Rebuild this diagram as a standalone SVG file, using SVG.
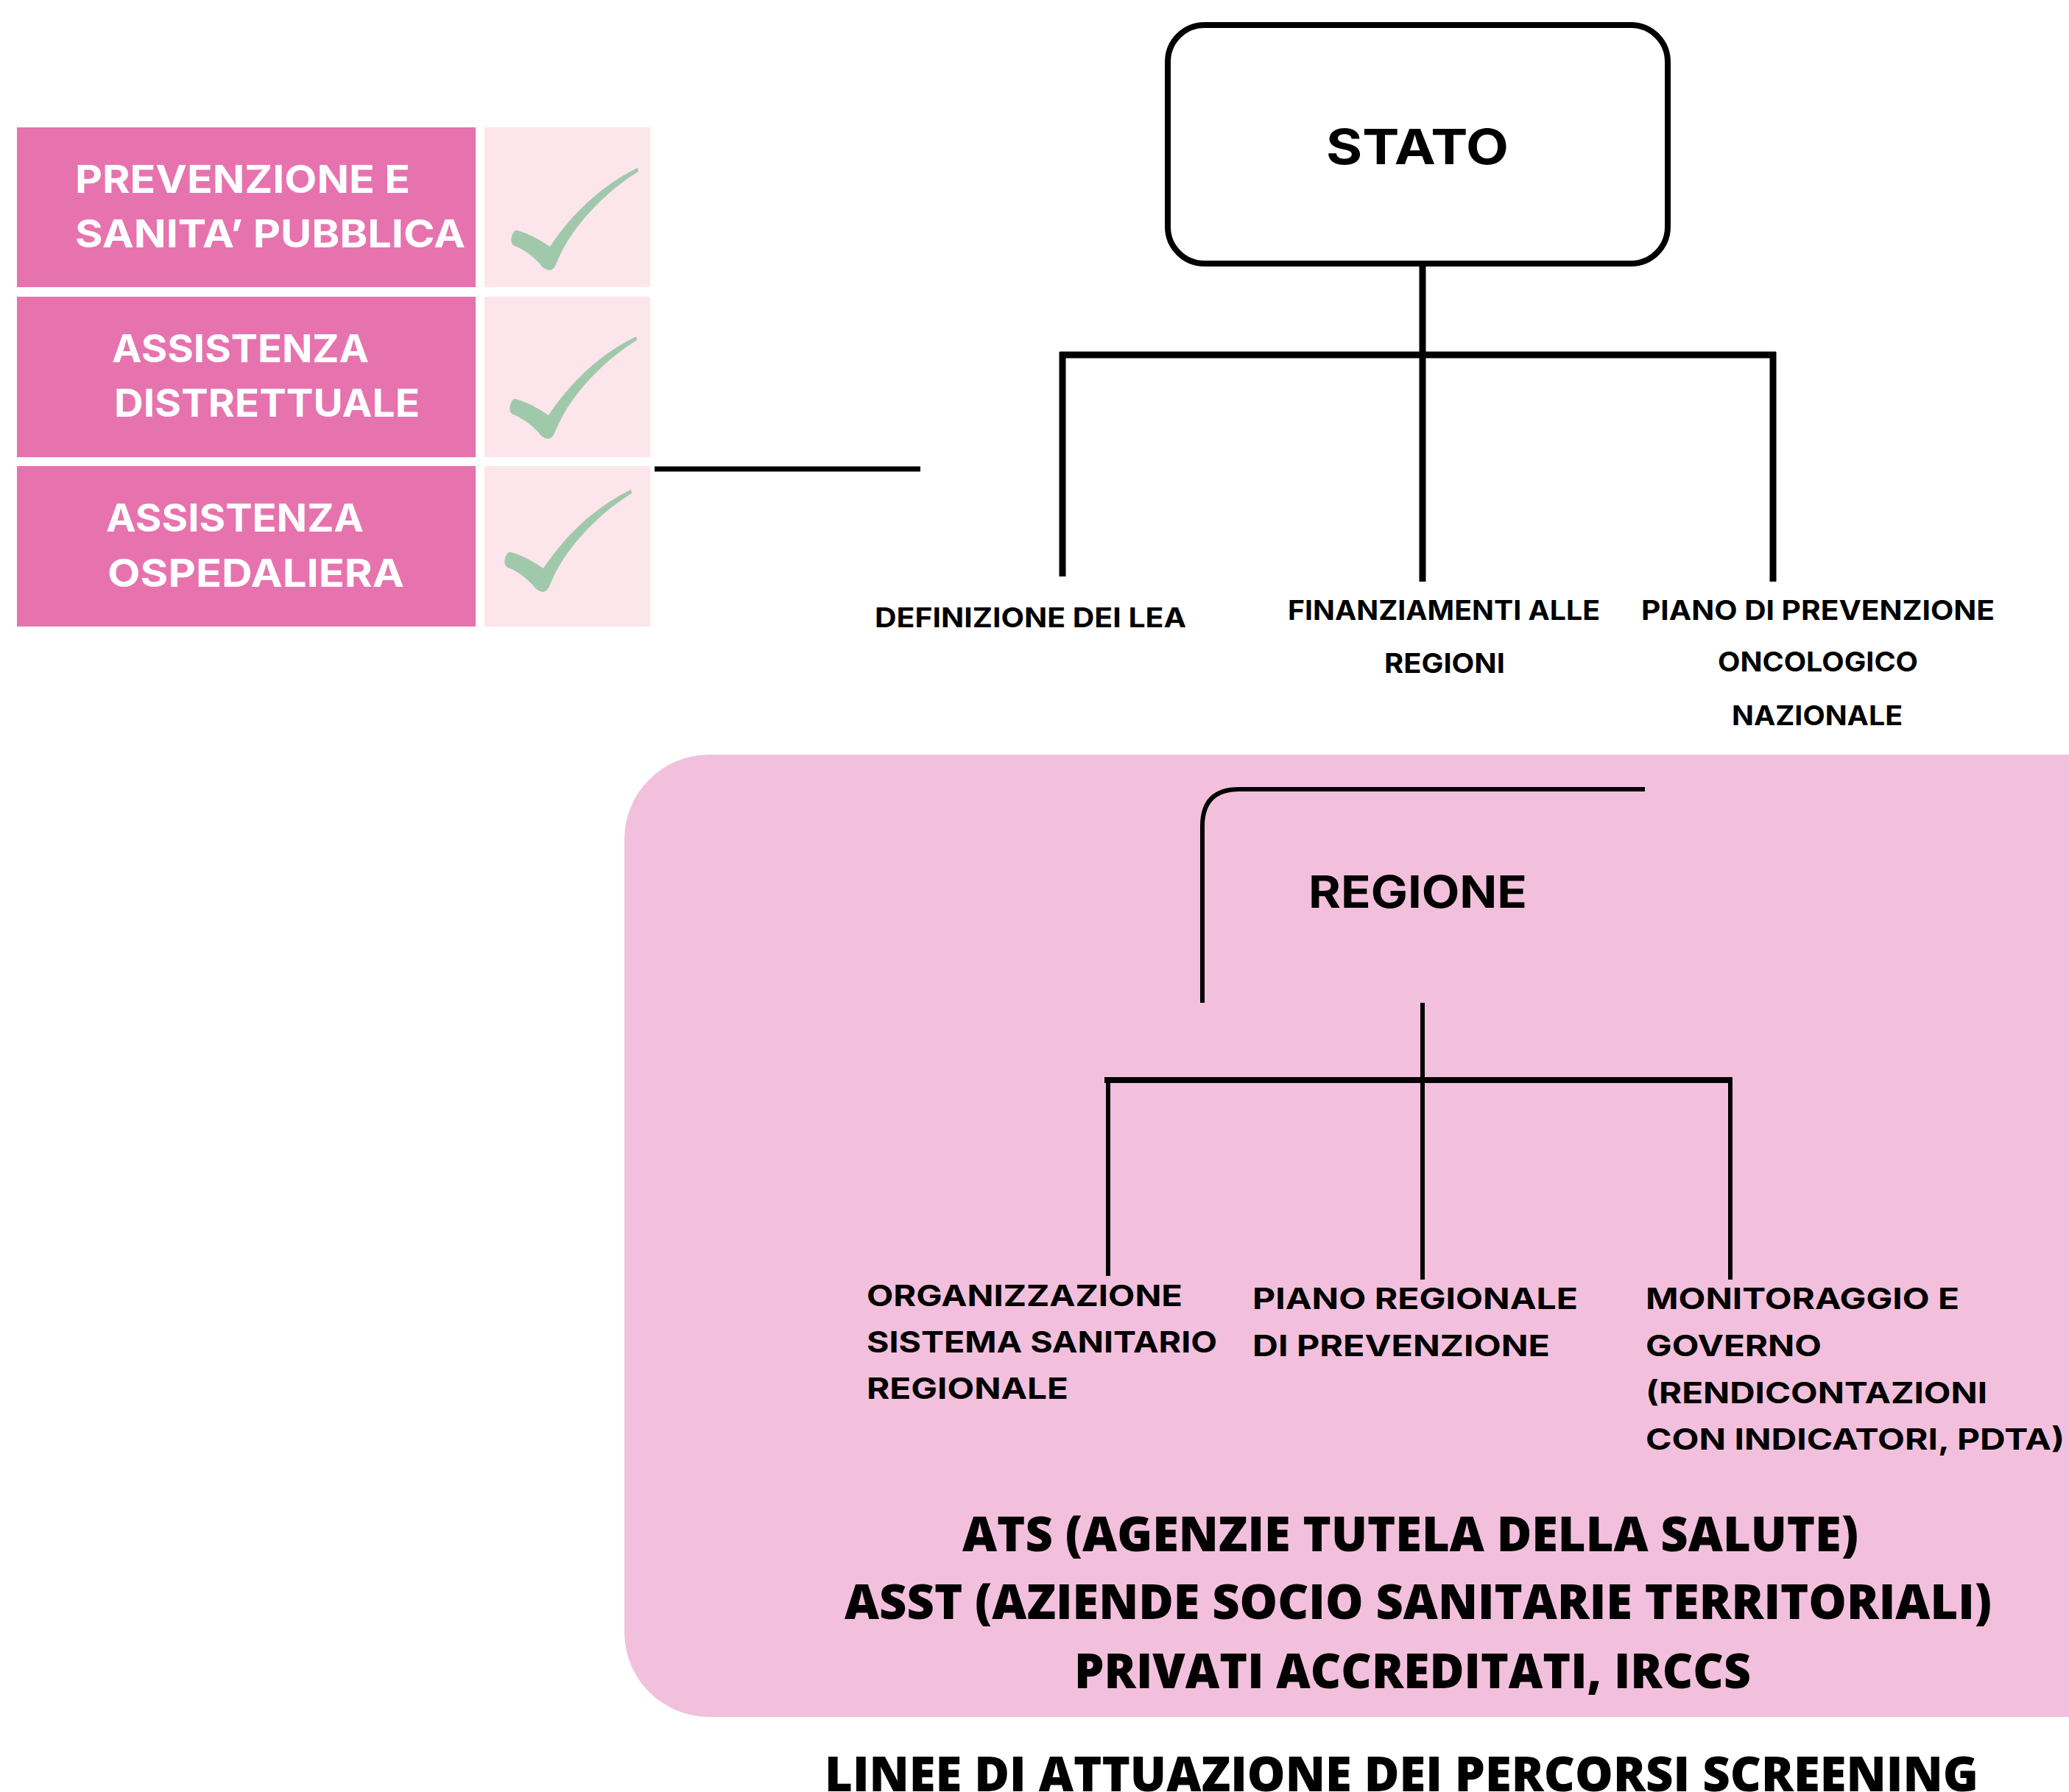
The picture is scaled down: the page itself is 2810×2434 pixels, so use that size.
<svg xmlns="http://www.w3.org/2000/svg" width="2810" height="2434" viewBox="0 0 2810 2434">
<defs>
<style>
.bg{fill:#ffffff}
.pink{fill:#e773ae}
.light{fill:#fde5ec}
.region{fill:#f2c0dc}
.check{fill:#a0c9ac}
.wt{font-family:Inter,"DejaVu Sans",sans-serif;font-weight:700;fill:#ffffff;font-size:52px}
.st{font-family:Inter,"DejaVu Sans",sans-serif;font-weight:700;fill:#000000;font-size:37px}
.rt{font-family:Inter,"DejaVu Sans",sans-serif;font-weight:700;fill:#000000;font-size:40px}
.title{font-family:Inter,"DejaVu Sans",sans-serif;font-weight:700;fill:#000000}
.big{font-family:"Open Sans","Liberation Sans",sans-serif;font-weight:800;fill:#000000;font-size:66px}
.ln{stroke:#000000;fill:none;stroke-linecap:butt}
</style>
<path id="chk" d="M703 313 Q722 318 747 335 C770 300 810 255 866 228 L867 233 C820 262 775 310 757 355 Q752 368 746 367 Q738 366 733 358 Q716 340 697 333 Q692 328 696 318 Q699 312 703 313 Z"/>
</defs>
<rect class="bg" x="0" y="0" width="2810" height="2434"/>

<g id="region-bg">
<rect class="region" x="848" y="1025" width="2200" height="1307" rx="115" ry="115"/>
</g>

<g id="lea-1">
<rect class="pink" x="23" y="173" width="623" height="217"/>
<rect class="light" x="658" y="173" width="225" height="217"/>
<use href="#chk" class="check"/>
<text class="wt" x="102" y="262" textLength="455" lengthAdjust="spacingAndGlyphs">PREVENZIONE E</text>
<text class="wt" x="102" y="336" textLength="530" lengthAdjust="spacingAndGlyphs">SANITA’ PUBBLICA</text>
</g>
<g id="lea-2">
<rect class="pink" x="23" y="403" width="623" height="218"/>
<rect class="light" x="658" y="403" width="225" height="218"/>
<use href="#chk" class="check" transform="translate(-2,229)"/>
<text class="wt" x="152" y="492" textLength="349" lengthAdjust="spacingAndGlyphs">ASSISTENZA</text>
<text class="wt" x="155" y="566" textLength="415" lengthAdjust="spacingAndGlyphs">DISTRETTUALE</text>
</g>
<g id="lea-3">
<rect class="pink" x="23" y="633" width="623" height="218"/>
<rect class="light" x="658" y="633" width="225" height="218"/>
<use href="#chk" class="check" transform="translate(-9,437)"/>
<text class="wt" x="144" y="722" textLength="350" lengthAdjust="spacingAndGlyphs">ASSISTENZA</text>
<text class="wt" x="146" y="797" textLength="403" lengthAdjust="spacingAndGlyphs">OSPEDALIERA</text>
</g>

<g id="stato">
<rect x="1586" y="34" width="679" height="324" rx="50" ry="50" fill="#ffffff" stroke="#000000" stroke-width="8"/>
<text class="title" x="1801" y="223" font-size="66" textLength="248" lengthAdjust="spacingAndGlyphs">STATO</text>
</g>

<g id="stato-children">
<text class="st" x="1188" y="852" textLength="423" lengthAdjust="spacingAndGlyphs">DEFINIZIONE DEI LEA</text>
<text class="st" x="1749" y="842" textLength="424" lengthAdjust="spacingAndGlyphs">FINANZIAMENTI ALLE</text>
<text class="st" x="1880" y="914" textLength="164" lengthAdjust="spacingAndGlyphs">REGIONI</text>
<text class="st" x="2229" y="842" textLength="480" lengthAdjust="spacingAndGlyphs">PIANO DI PREVENZIONE</text>
<text class="st" x="2333" y="912" textLength="272" lengthAdjust="spacingAndGlyphs">ONCOLOGICO</text>
<text class="st" x="2352" y="985" textLength="232" lengthAdjust="spacingAndGlyphs">NAZIONALE</text>
</g>

<g id="regione">
<path class="ln" stroke-width="6" d="M1633 1362 L1633 1122 Q1633 1072 1683 1072 L2234 1072"/>
<text class="title" x="1777" y="1233" font-size="60" textLength="297" lengthAdjust="spacingAndGlyphs">REGIONE</text>
</g>

<g id="regione-children">
<text class="rt" x="1177" y="1774" textLength="429" lengthAdjust="spacingAndGlyphs">ORGANIZZAZIONE</text>
<text class="rt" x="1177" y="1837" textLength="476" lengthAdjust="spacingAndGlyphs">SISTEMA SANITARIO</text>
<text class="rt" x="1177" y="1900" textLength="274" lengthAdjust="spacingAndGlyphs">REGIONALE</text>
<text class="rt" x="1701" y="1778" textLength="442" lengthAdjust="spacingAndGlyphs">PIANO REGIONALE</text>
<text class="rt" x="1701" y="1842" textLength="404" lengthAdjust="spacingAndGlyphs">DI PREVENZIONE</text>
<text class="rt" x="2235" y="1778" textLength="426" lengthAdjust="spacingAndGlyphs">MONITORAGGIO E</text>
<text class="rt" x="2235" y="1842" textLength="239" lengthAdjust="spacingAndGlyphs">GOVERNO</text>
<text class="rt" x="2235" y="1906" textLength="464" lengthAdjust="spacingAndGlyphs">(RENDICONTAZIONI</text>
<text class="rt" x="2235" y="1969" textLength="569" lengthAdjust="spacingAndGlyphs">CON INDICATORI, PDTA)</text>
</g>

<g id="enti">
<text class="big" x="1307" y="2107" textLength="1217" lengthAdjust="spacingAndGlyphs">ATS (AGENZIE TUTELA DELLA SALUTE)</text>
<text class="big" x="1147" y="2199" textLength="1558" lengthAdjust="spacingAndGlyphs">ASST (AZIENDE SOCIO SANITARIE TERRITORIALI)</text>
<text class="big" x="1459" y="2293" textLength="919" lengthAdjust="spacingAndGlyphs">PRIVATI ACCREDITATI, IRCCS</text>
</g>

<g id="linee">
<text class="big" x="1120" y="2433" textLength="1567" lengthAdjust="spacingAndGlyphs">LINEE DI ATTUAZIONE DEI PERCORSI SCREENING</text>
</g>

<g id="connectors">
<line class="ln" stroke-width="7" x1="889" y1="637" x2="1250" y2="637"/>
<line class="ln" stroke-width="9" x1="1932" y1="362" x2="1932" y2="790"/>
<line class="ln" stroke-width="9" x1="1439" y1="482" x2="2412" y2="482"/>
<line class="ln" stroke-width="9" x1="1443" y1="478" x2="1443" y2="783"/>
<line class="ln" stroke-width="9" x1="2408" y1="478" x2="2408" y2="790"/>
<line class="ln" stroke-width="6" x1="1932" y1="1362" x2="1932" y2="1738"/>
<line class="ln" stroke-width="8" x1="1500" y1="1467" x2="2353" y2="1467"/>
<line class="ln" stroke-width="6" x1="1505" y1="1463" x2="1505" y2="1733"/>
<line class="ln" stroke-width="6" x1="2350" y1="1463" x2="2350" y2="1738"/>
</g>
</svg>
